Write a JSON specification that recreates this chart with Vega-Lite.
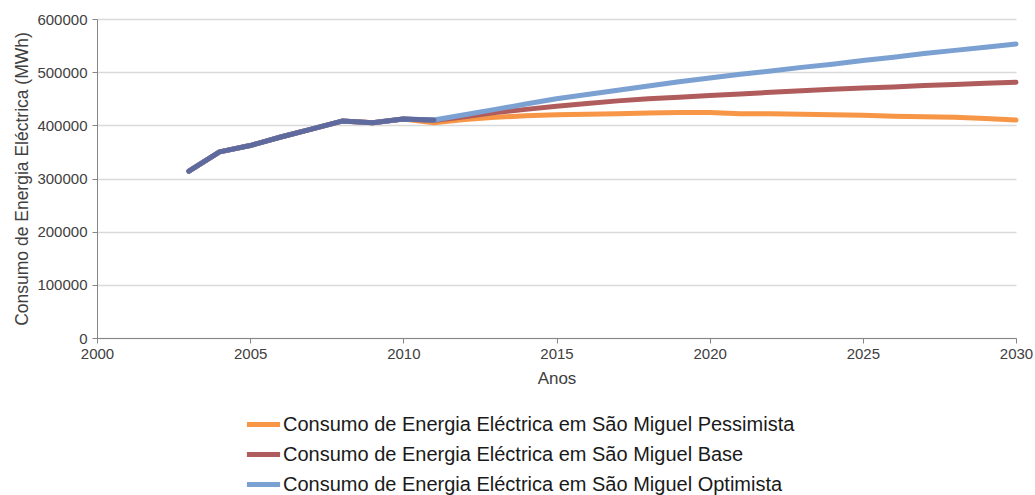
{
  "$schema": "https://vega.github.io/schema/vega-lite/v6.json",
  "autosize": "none",
  "width": 919,
  "height": 319,
  "padding": {"left": 97, "top": 19, "right": 19, "bottom": 157},
  "background": "white",
  "config": {
    "font": "Liberation Sans",
    "view": {"stroke": null}
  },
  "data": {
    "values": [
      {"ano": 2003, "serie": "Pessimista", "v": 314000},
      {"ano": 2004, "serie": "Pessimista", "v": 350000},
      {"ano": 2005, "serie": "Pessimista", "v": 362000},
      {"ano": 2006, "serie": "Pessimista", "v": 378000},
      {"ano": 2007, "serie": "Pessimista", "v": 393000},
      {"ano": 2008, "serie": "Pessimista", "v": 408000},
      {"ano": 2009, "serie": "Pessimista", "v": 405000},
      {"ano": 2010, "serie": "Pessimista", "v": 412000},
      {"ano": 2011, "serie": "Pessimista", "v": 405000},
      {"ano": 2012, "serie": "Pessimista", "v": 411000},
      {"ano": 2013, "serie": "Pessimista", "v": 415000},
      {"ano": 2014, "serie": "Pessimista", "v": 418000},
      {"ano": 2015, "serie": "Pessimista", "v": 420000},
      {"ano": 2016, "serie": "Pessimista", "v": 421000},
      {"ano": 2017, "serie": "Pessimista", "v": 422000},
      {"ano": 2018, "serie": "Pessimista", "v": 423000},
      {"ano": 2019, "serie": "Pessimista", "v": 424000},
      {"ano": 2020, "serie": "Pessimista", "v": 424000},
      {"ano": 2021, "serie": "Pessimista", "v": 422000},
      {"ano": 2022, "serie": "Pessimista", "v": 422000},
      {"ano": 2023, "serie": "Pessimista", "v": 421000},
      {"ano": 2024, "serie": "Pessimista", "v": 420000},
      {"ano": 2025, "serie": "Pessimista", "v": 419000},
      {"ano": 2026, "serie": "Pessimista", "v": 417000},
      {"ano": 2027, "serie": "Pessimista", "v": 416000},
      {"ano": 2028, "serie": "Pessimista", "v": 415000},
      {"ano": 2029, "serie": "Pessimista", "v": 413000},
      {"ano": 2030, "serie": "Pessimista", "v": 410000},
      {"ano": 2003, "serie": "Base", "v": 314000},
      {"ano": 2004, "serie": "Base", "v": 350000},
      {"ano": 2005, "serie": "Base", "v": 362000},
      {"ano": 2006, "serie": "Base", "v": 378000},
      {"ano": 2007, "serie": "Base", "v": 393000},
      {"ano": 2008, "serie": "Base", "v": 408000},
      {"ano": 2009, "serie": "Base", "v": 405000},
      {"ano": 2010, "serie": "Base", "v": 412000},
      {"ano": 2011, "serie": "Base", "v": 409000},
      {"ano": 2012, "serie": "Base", "v": 416000},
      {"ano": 2013, "serie": "Base", "v": 424000},
      {"ano": 2014, "serie": "Base", "v": 430000},
      {"ano": 2015, "serie": "Base", "v": 436000},
      {"ano": 2016, "serie": "Base", "v": 441000},
      {"ano": 2017, "serie": "Base", "v": 446000},
      {"ano": 2018, "serie": "Base", "v": 450000},
      {"ano": 2019, "serie": "Base", "v": 453000},
      {"ano": 2020, "serie": "Base", "v": 456000},
      {"ano": 2021, "serie": "Base", "v": 459000},
      {"ano": 2022, "serie": "Base", "v": 462000},
      {"ano": 2023, "serie": "Base", "v": 465000},
      {"ano": 2024, "serie": "Base", "v": 468000},
      {"ano": 2025, "serie": "Base", "v": 470000},
      {"ano": 2026, "serie": "Base", "v": 472000},
      {"ano": 2027, "serie": "Base", "v": 475000},
      {"ano": 2028, "serie": "Base", "v": 477000},
      {"ano": 2029, "serie": "Base", "v": 479000},
      {"ano": 2030, "serie": "Base", "v": 481000},
      {"ano": 2003, "serie": "Optimista", "v": 314000},
      {"ano": 2004, "serie": "Optimista", "v": 350000},
      {"ano": 2005, "serie": "Optimista", "v": 362000},
      {"ano": 2006, "serie": "Optimista", "v": 378000},
      {"ano": 2007, "serie": "Optimista", "v": 393000},
      {"ano": 2008, "serie": "Optimista", "v": 408000},
      {"ano": 2009, "serie": "Optimista", "v": 405000},
      {"ano": 2010, "serie": "Optimista", "v": 412000},
      {"ano": 2011, "serie": "Optimista", "v": 410000},
      {"ano": 2012, "serie": "Optimista", "v": 420000},
      {"ano": 2013, "serie": "Optimista", "v": 430000},
      {"ano": 2014, "serie": "Optimista", "v": 440000},
      {"ano": 2015, "serie": "Optimista", "v": 450000},
      {"ano": 2016, "serie": "Optimista", "v": 458000},
      {"ano": 2017, "serie": "Optimista", "v": 466000},
      {"ano": 2018, "serie": "Optimista", "v": 474000},
      {"ano": 2019, "serie": "Optimista", "v": 482000},
      {"ano": 2020, "serie": "Optimista", "v": 489000},
      {"ano": 2021, "serie": "Optimista", "v": 496000},
      {"ano": 2022, "serie": "Optimista", "v": 502000},
      {"ano": 2023, "serie": "Optimista", "v": 509000},
      {"ano": 2024, "serie": "Optimista", "v": 515000},
      {"ano": 2025, "serie": "Optimista", "v": 522000},
      {"ano": 2026, "serie": "Optimista", "v": 528000},
      {"ano": 2027, "serie": "Optimista", "v": 535000},
      {"ano": 2028, "serie": "Optimista", "v": 541000},
      {"ano": 2029, "serie": "Optimista", "v": 547000},
      {"ano": 2030, "serie": "Optimista", "v": 553000}
    ]
  },
  "transform": [
    {"calculate": "'Consumo de Energia Eléctrica em São Miguel ' + datum.serie", "as": "nome"},
    {"calculate": "datum.serie == 'Pessimista' ? 0 : datum.serie == 'Base' ? 1 : 2", "as": "ord"}
  ],
  "encoding": {
    "x": {
      "field": "ano", "type": "quantitative",
      "scale": {"domain": [2000, 2030], "nice": false, "zero": false},
      "axis": {
        "title": "Anos", "titleFontSize": 17, "titleFontWeight": "normal", "titleColor": "#404040", "titlePadding": 9,
        "values": [2000, 2005, 2010, 2015, 2020, 2025, 2030], "format": "d",
        "labelFontSize": 15, "labelColor": "#404040", "labelPadding": 3,
        "grid": false, "domainColor": "#868686", "tickColor": "#868686", "tickSize": 5, "labelFlush": false
      }
    },
    "y": {
      "field": "v", "type": "quantitative",
      "scale": {"domain": [0, 600000], "nice": false},
      "axis": {
        "title": "Consumo de Energia Eléctrica (MWh)", "titleFontSize": 17.5, "titleFontWeight": "normal", "titleColor": "#404040", "titlePadding": 5,
        "values": [0, 100000, 200000, 300000, 400000, 500000, 600000], "format": "d",
        "labelFontSize": 15, "labelColor": "#404040", "labelPadding": 5,
        "grid": true, "gridColor": "#d9d9d9", "gridWidth": 1.5,
        "domainColor": "#868686", "tickColor": "#868686", "tickSize": 5
      }
    }
  },
  "layer": [
    {
      "mark": {"type": "line", "strokeWidth": 5, "strokeCap": "round", "strokeJoin": "round"},
      "encoding": {
        "color": {
          "field": "nome", "type": "nominal",
          "sort": [
            "Consumo de Energia Eléctrica em São Miguel Pessimista",
            "Consumo de Energia Eléctrica em São Miguel Base",
            "Consumo de Energia Eléctrica em São Miguel Optimista"
          ],
          "scale": {
            "domain": [
              "Consumo de Energia Eléctrica em São Miguel Pessimista",
              "Consumo de Energia Eléctrica em São Miguel Base",
              "Consumo de Energia Eléctrica em São Miguel Optimista"
            ],
            "range": ["#F79646", "#B05C5C", "#7BA0D2"]
          },
          "legend": {
            "title": null, "orient": "none", "legendX": 147, "legendY": 386,
            "symbolType": "stroke", "symbolStrokeWidth": 5, "symbolSize": 1100,
            "labelFontSize": 20, "labelColor": "#1a1a1a", "labelOffset": 0,
            "rowPadding": -2, "labelLimit": 800
          }
        },
        "order": {"field": "ord"}
      }
    },
    {
      "transform": [{"filter": "datum.serie == 'Optimista' && datum.ano <= 2011"}],
      "mark": {"type": "line", "strokeWidth": 5, "strokeCap": "round", "strokeJoin": "round", "color": "#5F6A9E"},
      "encoding": {}
    }
  ]
}
